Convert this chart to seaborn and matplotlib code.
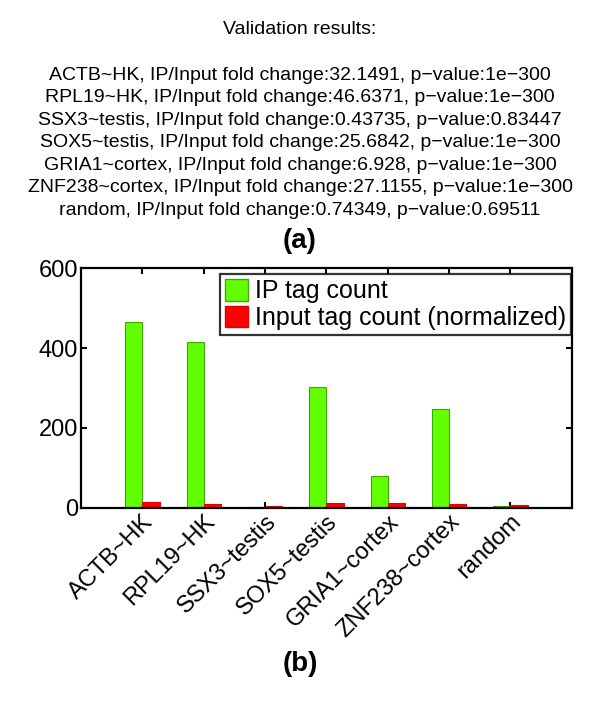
import pandas as pd
import numpy as np
import matplotlib.pyplot as plt
import seaborn as sns
from matplotlib.patches import Patch

genes = ["ACTB~HK", "RPL19~HK", "SSX3~testis", "SOX5~testis",
         "GRIA1~cortex", "ZNF238~cortex", "random"]
ip_counts = [466, 414, 2, 303, 80, 247, 6]
input_counts = [14.5, 8.9, 4.6, 11.8, 11.5, 9.1, 8]
fold_change = ["32.1491", "46.6371", "0.43735", "25.6842", "6.928", "27.1155", "0.74349"]
p_values = ["1e\u2212300", "1e\u2212300", "0.83447", "1e\u2212300", "1e\u2212300", "1e\u2212300", "0.69511"]
series_names = ["IP tag count", "Input tag count (normalized)"]
series_colors = ["#62ff00", "#ff0000"]
edge_colors = ["#3caa00", "#e00000"]

df = pd.DataFrame({
    "gene": genes * 2,
    "count": ip_counts + input_counts,
    "series": [series_names[0]] * len(genes) + [series_names[1]] * len(genes),
})

sns.set_style("white")
plt.rcParams["font.family"] = ["Liberation Sans", "DejaVu Sans"]
plt.rcParams["text.color"] = "black"
plt.rcParams["xtick.color"] = "black"
plt.rcParams["ytick.color"] = "black"

fig = plt.figure(figsize=(6, 7.02), dpi=100)
ax = fig.add_axes([0.135, 0.2764, 0.818, 0.3418])

sns.barplot(data=df, x="gene", y="count", hue="series", order=genes,
            hue_order=series_names, palette=series_colors, width=0.56,
            legend=False, ax=ax, saturation=1)
for container, ec in zip(ax.containers, edge_colors):
    for bar in container:
        bar.set_edgecolor(ec)
        bar.set_linewidth(0.8)

ax.set_xlim(-1, 7)
ax.set_ylim(0, 600)
ax.set_yticks([0, 200, 400, 600])
ax.set_xlabel("")
ax.set_ylabel("")
ax.set_xticks(range(len(genes)))
ax.set_xticklabels(genes, rotation=45, ha="right", rotation_mode="anchor")
ax.tick_params(axis="both", labelsize=17, direction="in", length=4, width=1.5,
               top=True, right=True, bottom=True, left=True, pad=2,
               colors="black")
for s in ax.spines.values():
    s.set_visible(True)
    s.set_linewidth(1.6)
    s.set_color("black")

handles = [Patch(facecolor=c, edgecolor=e) for c, e in zip(series_colors, edge_colors)]
leg = ax.legend(handles, series_names, loc="upper right", fontsize=18,
                bbox_to_anchor=(0.998, 0.975), borderaxespad=0,
                frameon=True, fancybox=False, edgecolor="black",
                handlelength=0.95, handleheight=0.95,
                handletextpad=0.25, borderpad=0.2, labelspacing=0.1)
leg.get_frame().set_linewidth(1.6)

fig.text(0.5, 1 - 30 / 702, "Validation results:", ha="center", va="center", fontsize=14)
for i, g in enumerate(genes):
    line = f"{g}, IP/Input fold change:{fold_change[i]}, p\u2212value:{p_values[i]}"
    fig.text(0.5, 1 - (75 + 22.6 * i) / 702, line, ha="center", va="center", fontsize=14)
fig.text(0.5, 1 - 241 / 702, "(a)", ha="center", va="center", fontsize=20, fontweight="bold")
fig.text(0.5, 1 - 664 / 702, "(b)", ha="center", va="center", fontsize=20, fontweight="bold")

fig.savefig("out.png", dpi=100)
